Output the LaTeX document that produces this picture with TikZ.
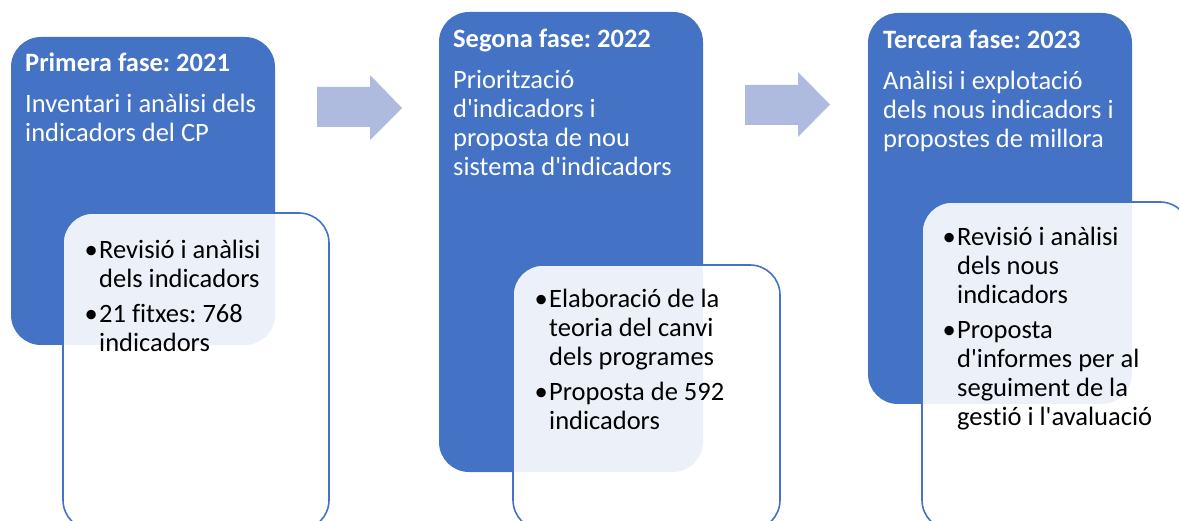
\documentclass[tikz,border=0pt]{standalone}
\usepackage{fontspec}
\setmainfont[Ligatures={TeX,NoCommon}]{Carlito}
\frenchspacing
\definecolor{phaseblue}{RGB}{68,114,196}
\definecolor{arrowblue}{RGB}{175,187,222}
\tikzset{
  phasebox/.style={fill=phaseblue, rounded corners=30pt},
  detailbox/.style={draw=phaseblue, line width=1.6pt, fill=white, fill opacity=0.9, rounded corners=30pt},
  bigarrow/.style={fill=arrowblue},
  headtext/.style={anchor=base west, inner sep=0pt, text=white, font=\fontsize{26.5}{29}\selectfont\bfseries},
  bodytext/.style={anchor=base west, inner sep=0pt, text=white, font=\fontsize{26.5}{29}\selectfont},
  bullettext/.style={anchor=base west, inner sep=0pt, text=black, font=\fontsize{26.5}{29}\selectfont},
}
\newcommand{\myblk}[1]{\vtop{\frenchspacing\baselineskip=29pt\lineskiplimit=-20pt #1}}
\newcommand{\mybl}[1]{\hbox{\llap{\textbullet\hspace{1.5pt}}#1}}
\newcommand{\myln}[1]{\hbox{#1}}
\newcommand{\ap}{\textquotesingle}
\begin{document}
\begin{tikzpicture}[x=1pt,y=-1pt]
\useasboundingbox (0,0) rectangle (1179,521);
\clip (0,0) rectangle (1179,521);
% arrows
\fill[bigarrow] (317,87) -- (370,87) -- (370,75) -- (402,108) -- (370,140) -- (370,127) -- (317,127) -- cycle;
\fill[bigarrow] (745,85) -- (798,85) -- (798,72) -- (830,104.5) -- (798,137) -- (798,125) -- (745,125) -- cycle;
% phase boxes
\path[phasebox] (11,37) rectangle (275,345);
\path[phasebox] (439,12) rectangle (703,472);
\path[phasebox] (868,13) rectangle (1132,404);
% detail boxes
\path[detailbox] (63,213) rectangle (329,530);
\path[detailbox] (513,265) rectangle (780,530);
\path[detailbox] (922,202) rectangle (1190,530);
% phase 1
\node[headtext] (h1) at (25,72) {Primera fase: 2021};
\node[bodytext] (b1) at (25,113) {\myblk{\myln{Inventari i anàlisi dels}\myln{indicadors del CP}}};
\node[bullettext] (d1) at (99,259) {\myblk{\mybl{Revisió i anàlisi}\myln{dels indicadors}\vskip6pt\mybl{21 fitxes: 768}\myln{indicadors}}};
% phase 2
\node[headtext] (h2) at (453,48) {Segona fase: 2022};
\node[bodytext] (b2) at (453,89) {\myblk{\myln{Priorització}\myln{d\ap indicadors i}\myln{proposta de nou}\myln{sistema d\ap indicadors}}};
\node[bullettext] (d2) at (549,308) {\myblk{\mybl{Elaboració de la}\myln{teoria del canvi}\myln{dels programes}\vskip6pt\mybl{Proposta de 592}\myln{indicadors}}};
% phase 3
\node[headtext] (h3) at (883,49) {Tercera fase: 2023};
\node[bodytext] (b3) at (883,90) {\myblk{\myln{Anàlisi i explotació}\myln{dels nous indicadors i}\myln{propostes de millora}}};
\node[bullettext] (d3) at (957,246) {\myblk{\mybl{Revisió i anàlisi}\myln{dels nous}\myln{indicadors}\vskip6pt\mybl{Proposta}\myln{d\ap informes per al}\myln{seguiment de la}\myln{gestió i l\ap avaluació}}};
\end{tikzpicture}
\end{document}
